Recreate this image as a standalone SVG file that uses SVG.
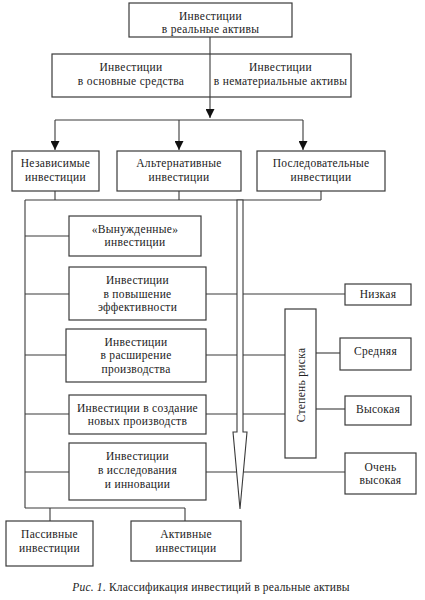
<svg xmlns="http://www.w3.org/2000/svg" width="425" height="600" viewBox="0 0 425 600">
<defs>
<style>
.b{fill:#fff;stroke:#3a3a3a;stroke-width:1.2}
.l{fill:none;stroke:#3a3a3a;stroke-width:1.1}
text{font-family:'Liberation Serif','Times New Roman','DejaVu Serif',serif;font-size:11.5px;fill:#222;text-anchor:middle;letter-spacing:0.3px}
.cap{font-size:11.5px;letter-spacing:0.2px}
</style>
<marker id="ah" viewBox="0 0 10 10" refX="10" refY="5" markerWidth="9" markerHeight="9" markerUnits="userSpaceOnUse" orient="auto">
<path d="M0,0 L10,5 L0,10 Z" fill="#111"/>
</marker>
</defs>
<rect width="425" height="600" fill="#fff"/>

<g id="connectors">
<line class="l" x1="210" y1="37" x2="210" y2="118" marker-end="url(#ah)"/>
<line class="l" x1="55" y1="120" x2="303" y2="120"/>
<line class="l" x1="55" y1="120" x2="55" y2="150" marker-end="url(#ah)"/>
<line class="l" x1="179" y1="120" x2="179" y2="150" marker-end="url(#ah)"/>
<line class="l" x1="303" y1="120" x2="303" y2="150" marker-end="url(#ah)"/>
<polyline class="l" points="55,191 55,200"/>
<polyline class="l" points="179,191 179,200"/>
<polyline class="l" points="321,191 321,200"/>
<line class="l" x1="25" y1="200" x2="321" y2="200"/>
<line class="l" x1="25" y1="200" x2="25" y2="508"/>
<line class="l" x1="25" y1="236" x2="69" y2="236"/>
<line class="l" x1="25" y1="294" x2="69" y2="294"/>
<line class="l" x1="25" y1="355" x2="66" y2="355"/>
<line class="l" x1="25" y1="414" x2="69" y2="414"/>
<line class="l" x1="25" y1="472" x2="69" y2="472"/>
<line class="l" x1="206" y1="294" x2="345" y2="294"/>
<line class="l" x1="206" y1="355" x2="285" y2="355"/>
<line class="l" x1="206" y1="414" x2="285" y2="414"/>
<line class="l" x1="206" y1="472" x2="345" y2="472"/>
<line class="l" x1="316" y1="353" x2="340" y2="353"/>
<line class="l" x1="316" y1="409" x2="345" y2="409"/>
<line class="l" x1="25" y1="508" x2="185" y2="508"/>
<line class="l" x1="50" y1="508" x2="50" y2="521"/>
<line class="l" x1="185" y1="508" x2="185" y2="521"/>
<polygon points="237,200 243,200 243,432 247,432 240,509 233,432 237,432" fill="#fff" stroke="#3a3a3a" stroke-width="1.1"/>
</g>

<g id="n-top"><rect class="b" x="129" y="3" width="163" height="34"/>
<text x="210.5" y="20">Инвестиции</text><text x="210.5" y="33">в реальные активы</text></g>

<g id="n-row2"><rect class="b" x="52" y="54" width="299" height="43"/>
<line class="l" x1="210" y1="54" x2="210" y2="97"/>
<text x="131" y="71">Инвестиции</text><text x="131" y="85">в основные средства</text>
<text x="280.5" y="71">Инвестиции</text><text x="280.5" y="85">в нематериальные активы</text></g>

<g id="n-indep"><rect class="b" x="12" y="151" width="87" height="40"/>
<text x="55.5" y="167">Независимые</text><text x="55.5" y="181">инвестиции</text></g>
<g id="n-alt"><rect class="b" x="117" y="151" width="124" height="40"/>
<text x="179" y="167">Альтернативные</text><text x="179" y="181">инвестиции</text></g>
<g id="n-seq"><rect class="b" x="257" y="151" width="128" height="40"/>
<text x="321" y="167">Последовательные</text><text x="321" y="181">инвестиции</text></g>

<g id="n-forced"><rect class="b" x="69" y="216" width="132" height="40"/>
<text x="135" y="233">«Вынужденные»</text><text x="135" y="246">инвестиции</text></g>
<g id="n-eff"><rect class="b" x="69" y="267" width="137" height="53"/>
<text x="137.5" y="284">Инвестиции</text><text x="137.5" y="298">в повышение</text><text x="137.5" y="311">эффективности</text></g>
<g id="n-exp"><rect class="b" x="66" y="329" width="140" height="53"/>
<text x="136" y="346">Инвестиции</text><text x="136" y="359">в расширение</text><text x="136" y="373">производства</text></g>
<g id="n-new"><rect class="b" x="69" y="395" width="137" height="39"/>
<text x="137.5" y="412">Инвестиции в создание</text><text x="137.5" y="425">новых производств</text></g>
<g id="n-rnd"><rect class="b" x="69" y="443" width="137" height="57"/>
<text x="137.5" y="460">Инвестиции</text><text x="137.5" y="474">в исследования</text><text x="137.5" y="488">и инновации</text></g>

<g id="n-passive"><rect class="b" x="6" y="521" width="87" height="45"/>
<text x="49.5" y="538">Пассивные</text><text x="49.5" y="552">инвестиции</text></g>
<g id="n-active"><rect class="b" x="131" y="521" width="110" height="40"/>
<text x="186" y="538">Активные</text><text x="186" y="552">инвестиции</text></g>

<g id="n-risk"><rect class="b" x="285" y="309" width="31" height="149"/>
<text transform="translate(304.5,385) rotate(-90)" x="0" y="0">Степень риска</text></g>
<g id="n-low"><rect class="b" x="345" y="284" width="66" height="21"/>
<text x="378" y="298">Низкая</text></g>
<g id="n-mid"><rect class="b" x="340" y="338" width="71" height="32"/>
<text x="375.5" y="355">Средняя</text></g>
<g id="n-high"><rect class="b" x="345" y="396" width="66" height="29"/>
<text x="378" y="413">Высокая</text></g>
<g id="n-vhigh"><rect class="b" x="345" y="453" width="71" height="41"/>
<text x="380.5" y="471">Очень</text><text x="380.5" y="484">высокая</text></g>

<text class="cap" x="211" y="591"><tspan font-style="italic">Рис. 1</tspan>. Классификация инвестиций в реальные активы</text>
</svg>
